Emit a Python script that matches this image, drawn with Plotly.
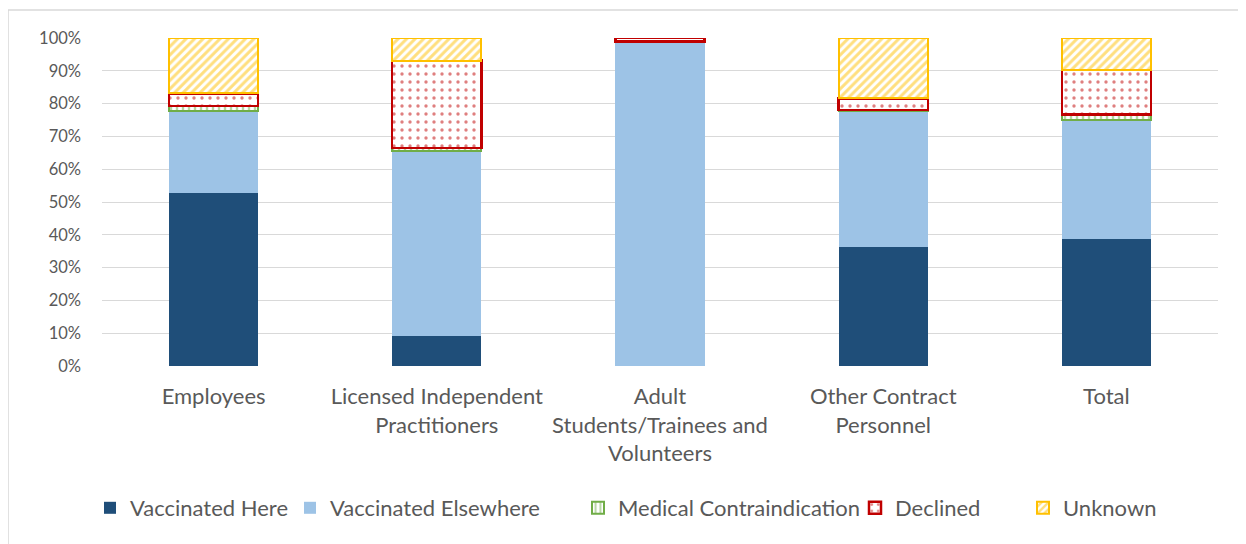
import plotly.graph_objects as go

categories = ["Employees", "Licensed Independent<br>Practitioners",
              "Adult<br>Students/Trainees and<br>Volunteers",
              "Other Contract<br>Personnel", "Total"]
vaccinated_here = [52.7, 9.1, 0.0, 36.3, 38.7]
vaccinated_elsewhere = [25.0, 56.5, 99.0, 41.4, 36.3]
medical_contraindication = [1.6, 0.8, 0.0, 0.3, 1.7]
declined = [3.8, 26.7, 1.0, 3.6, 13.5]
unknown = [16.9, 6.9, 0.0, 18.4, 9.8]
y_ticks = [0, 10, 20, 30, 40, 50, 60, 70, 80, 90, 100]

FONT = "Lato, 'Open Sans', sans-serif"
TXT = "#595959"
W, H = 1238, 536
# legend square centre targets (page px)
legend_px = [110, 310, 598, 875, 1043]


def lw(vals, w=2):
    return [w if v > 0 else 0 for v in vals]


fig = go.Figure()
fig.add_trace(go.Bar(name="Vaccinated Here", x=categories, y=vaccinated_here,
                     legend="legend",
                     marker=dict(color="#1F4E79", line=dict(width=0))))
fig.add_trace(go.Bar(name="Vaccinated Elsewhere", x=categories, y=vaccinated_elsewhere,
                     legend="legend2",
                     marker=dict(color="#9DC3E6", line=dict(width=0))))
fig.add_trace(go.Bar(name="Medical Contraindication", x=categories, y=medical_contraindication,
                     legend="legend3",
                     marker=dict(color="white",
                                 line=dict(color="#70AD47", width=lw(medical_contraindication)),
                                 pattern=dict(shape="|", fgcolor="#70AD47", bgcolor="white",
                                              size=6, solidity=0.4))))
fig.add_trace(go.Bar(name="Declined", x=categories, y=declined,
                     legend="legend4",
                     marker=dict(color="white",
                                 line=dict(color="#C00000", width=lw(declined, 2.5)),
                                 pattern=dict(shape=".", fgcolor="#C00000", bgcolor="white",
                                              size=8, solidity=0.14))))
fig.add_trace(go.Bar(name="Unknown", x=categories, y=unknown,
                     legend="legend5",
                     marker=dict(color="white",
                                 line=dict(color="#FFC000", width=lw(unknown)),
                                 pattern=dict(shape="/", fgcolor="#FFC000", bgcolor="white",
                                              size=6, solidity=0.5))))

legends = {}
for i, px in enumerate(legend_px):
    key = "legend" if i == 0 else f"legend{i + 1}"
    legends[key] = dict(
        orientation="h", xref="container", yref="container",
        x=(px - 8 - 20) / W, xanchor="left",
        y=(544 - 508) / H, yanchor="middle",
        font=dict(size=22, color=TXT, family=FONT),
        bgcolor="rgba(0,0,0,0)",
    )

fig.update_layout(
    barmode="stack",
    bargap=0.6,
    width=W, height=H,
    margin=dict(l=94, r=28, t=30, b=178, autoexpand=False),
    paper_bgcolor="white", plot_bgcolor="white",
    font=dict(family=FONT, size=18, color=TXT),
    xaxis=dict(showgrid=False, showline=False, ticks="",
               tickfont=dict(size=22, color=TXT), ticklabelstandoff=15),
    yaxis=dict(range=[0, 100], tickvals=y_ticks,
               ticktext=[f"{v}%" for v in y_ticks],
               showgrid=True, gridcolor="#D9D9D9", gridwidth=1,
               zeroline=False, showline=False, ticks="",
               tickfont=dict(size=16.5, color=TXT), ticklabelstandoff=20),
    showlegend=True,
    shapes=[dict(type="rect", xref="paper", yref="paper",
                 x0=-0.0842, x1=1.2, y0=-0.7, y1=1.085,
                 line=dict(color="#D9D9D9", width=1.5), fillcolor="rgba(0,0,0,0)",
                 layer="below")],
    **legends,
)

fig.write_html("out.html")
